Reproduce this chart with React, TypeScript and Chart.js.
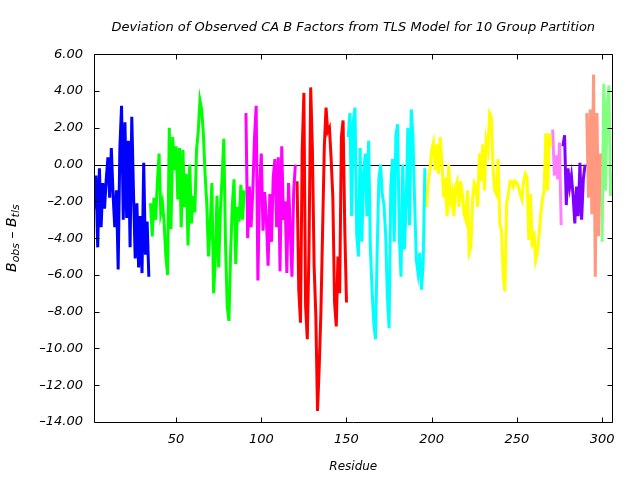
import React, { useEffect, useRef } from "react";
import { Chart, registerables } from "chart.js";

Chart.register(...registerables);

const titleText = "Deviation of Observed CA B Factors from TLS Model for 10 Group Partition";
const xTitle = "Residue";
const xMin = 2;
const xMax = 306;
const yMin = -14;
const yMax = 6;
const xTicks = [50, 100, 150, 200, 250, 300];
const yTicks = [-14, -12, -10, -8, -6, -4, -2, 0, 2, 4, 6];

const groupStarts = [2, 35, 91, 121, 151, 197, 271, 277, 291, 300];
const groupColors = ["#0000ff", "#00ff00", "#ff00ff", "#ff0000", "#00ffff", "#ffff00", "#ff80ff", "#8000ff", "#ff9a80", "#80ff80"];

const group1 = [-2.4, -0.6, -4.5, -0.2, -3.4, -1.0, -2.4, -0.8, 0.4, -1.8, 0.9, -1.6, -3.4, -1.4, -5.7, 0.9, 3.2, -3.0, 2.3, -2.9, 1.3, -4.5, 2.6, -1.5, -5.1, -2.1, -5.6, -2.8, -5.9, 0.1, -4.9, -3.1, -6.1];
const group2 = [-2.1, -3.9, -1.8, -3.0, -1.0, 0.6, -2.6, -2.1, -3.2, -5.0, -6.0, 2.0, -3.5, 1.5, -0.3, 1.0, -1.9, 0.9, -3.4, 0.8, -2.3, -0.5, -4.4, 0.0, -3.2, -1.7, -2.6, 0.8, 1.8, 3.5, 3.0, 1.7, -0.5, -2.1, -5.0, -3.4, -1.0, -7.0, -5.2, -1.7, -5.6, -2.5, -0.7, 1.4, -4.3, -7.7, -8.5, -4.8, -2.2, -0.8, -5.4, -2.3, -3.1, -1.1, -3.0, -1.4];
const group3 = [2.8, -4.0, -1.2, -3.4, -1.5, 1.4, 3.2, -6.3, -1.2, 0.6, -3.6, -1.5, -3.0, -5.5, -1.6, -4.2, -0.7, 0.3, -3.4, 0.4, -5.8, 1.0, -3.0, -2.0, -5.9, -1.0, -3.5, -6.1, -1.5, 0.0];
const group4 = [-0.9, -6.8, -8.6, 0.8, 3.9, -7.7, -9.5, -4.6, 4.2, 0.8, -5.5, -8.2, -13.4, -11.0, -8.0, -3.5, 1.0, 3.1, 1.8, 2.0, 0.3, -1.8, -7.5, -8.8, -5.0, -7.0, 1.5, 2.4, -3.5, -7.5];
const group5 = [1.5, 2.8, -2.8, 2.4, 3.1, -3.8, -5.0, 0.9, -4.2, -0.6, 0.6, -2.8, 1.3, -4.5, -6.8, -8.6, -9.5, -4.8, -0.8, 0.0, -1.6, -2.2, -3.8, -7.2, -8.9, -1.2, 0.3, -4.2, 1.6, 2.2, -3.9, -6.1, 0.0, -4.6, -2.3, 2.0, -3.3, 3.0, 1.6, -2.1, -5.2, -5.9, -4.8, -6.8, -5.4, -0.2];
const group6 = [-2.3, -0.9, -0.3, 0.8, 1.2, -0.3, 1.1, -0.5, 1.5, 0.2, -1.8, -0.7, -2.8, 0.0, -2.0, -1.5, -2.8, -1.2, -0.9, -2.3, -0.9, -1.6, -2.7, -3.0, -1.4, -4.8, -4.5, -1.9, -1.0, -1.2, -2.3, 0.6, -0.9, 1.1, -1.4, 1.3, 0.8, 2.8, 2.6, -0.2, -1.4, -1.6, 0.3, -3.2, -3.6, -6.1, -6.9, -2.1, -1.6, -0.9, -0.9, -1.2, -0.9, -1.0, -1.2, -1.6, -1.9, -0.9, -0.5, -0.7, -4.1, -1.6, -4.5, -3.6, -5.2, -4.8, -3.9, -2.7, -1.9, -1.4, 1.7, -1.4, 1.7, 1.0];
const group7 = [1.9, -0.6, 0.5, -0.8, 1.2, -3.3];
const group8 = [1.0, 1.6, -2.2, -0.2, -1.2, -0.6, -1.7, -3.2, -1.2, -2.8, 0.1, -3.0, -0.8, 0.0];
const group9 = [2.8, -1.8, 3.0, -2.7, 4.9, -6.1, 2.8, -3.9, 0.6];
const group10 = [-4.2, 4.4, -1.4, 3.3, 4.3, -1.7, -0.5];

const groupValues = [group1, group2, group3, group4, group5, group6, group7, group8, group9, group10];

const FONT = "'DejaVu Sans', sans-serif";

const framePlugin = {
  id: "frameAndTicks",
  beforeDatasetsDraw(chart: any) {
    const { ctx, chartArea: a, scales } = chart;
    const y0 = Math.round(scales.y.getPixelForValue(0)) + 0.5;
    ctx.save();
    ctx.strokeStyle = "#000";
    ctx.lineWidth = 1;
    ctx.beginPath();
    ctx.moveTo(a.left, y0);
    ctx.lineTo(a.right, y0);
    ctx.stroke();
    ctx.restore();
  },
  afterDraw(chart: any) {
    const { ctx, chartArea: a, scales } = chart;
    const L = Math.round(a.left) + 0.5;
    const R = Math.round(a.right) + 0.5;
    const T = Math.round(a.top) + 0.5;
    const B = Math.round(a.bottom) + 0.5;
    const tl = 5;
    ctx.save();
    ctx.strokeStyle = "#000";
    ctx.lineWidth = 1;
    ctx.beginPath();
    ctx.rect(L, T, R - L, B - T);
    for (const v of xTicks) {
      const px = Math.round(scales.x.getPixelForValue(v)) + 0.5;
      ctx.moveTo(px, B);
      ctx.lineTo(px, B - tl);
      ctx.moveTo(px, T);
      ctx.lineTo(px, T + tl);
    }
    for (const v of yTicks) {
      const py = Math.round(scales.y.getPixelForValue(v)) + 0.5;
      ctx.moveTo(L, py);
      ctx.lineTo(L + tl, py);
      ctx.moveTo(R, py);
      ctx.lineTo(R - tl, py);
    }
    ctx.stroke();

    // y-axis title with subscripts
    const parts = [
      { t: "B", sub: false },
      { t: "obs", sub: true },
      { t: " \u2013 ", sub: false },
      { t: "B", sub: false },
      { t: "tls", sub: true },
    ];
    const mainFont = `italic 14px ${FONT}`;
    const subFont = `italic 11px ${FONT}`;
    let total = 0;
    const widths: number[] = [];
    for (const p of parts) {
      ctx.font = p.sub ? subFont : mainFont;
      const w = ctx.measureText(p.t).width;
      widths.push(w);
      total += w;
    }
    const cy = (a.top + a.bottom) / 2;
    ctx.translate(16, cy);
    ctx.rotate(-Math.PI / 2);
    ctx.fillStyle = "#000";
    ctx.textBaseline = "alphabetic";
    ctx.textAlign = "left";
    let u = -total / 2;
    parts.forEach((p, i) => {
      ctx.font = p.sub ? subFont : mainFont;
      ctx.fillText(p.t, u, p.sub ? 3 : 0);
      u += widths[i];
    });
    ctx.restore();
  },
};

export default function App() {
  const ref = useRef<HTMLCanvasElement | null>(null);
  useEffect(() => {
    if (!ref.current) return;
    const datasets = groupValues.map((vals, gi) => ({
      label: `Group ${gi + 1}`,
      data: vals.map((v, i) => ({ x: groupStarts[gi] + i, y: v })),
      borderColor: groupColors[gi],
      backgroundColor: groupColors[gi],
      borderWidth: 3,
      pointRadius: 0,
      tension: 0,
      fill: false,
      showLine: true,
    }));
    const tickFont = { family: FONT, size: 13, style: "italic" as const, weight: "normal" as const };
    const chart = new Chart(ref.current, {
      type: "line",
      data: { datasets },
      plugins: [framePlugin],
      options: {
        responsive: false,
        animation: false,
        parsing: false,
        normalized: true,
        layout: { padding: { left: 0, right: 27.7, top: 0, bottom: 0 } },
        plugins: {
          legend: { display: false },
          tooltip: { enabled: false },
          title: {
            display: true,
            text: titleText,
            fullSize: false,
            color: "#000",
            font: { family: FONT, size: 13, style: "italic", weight: "normal", lineHeight: 1.2 },
            padding: { top: 20.2, bottom: 18.5 },
          },
        },
        scales: {
          x: {
            type: "linear",
            min: xMin,
            max: xMax,
            afterBuildTicks: (s: any) => {
              s.ticks = xTicks.map((v) => ({ value: v }));
            },
            afterFit: (s: any) => {
              s.height = 58;
            },
            grid: { display: false, drawTicks: false },
            border: { display: false },
            ticks: {
              color: "#000",
              font: tickFont,
              padding: 10.2,
              autoSkip: false,
              maxRotation: 0,
              callback: (v: any) => String(v),
            },
            title: {
              display: true,
              text: xTitle,
              color: "#000",
              font: { family: FONT, size: 12, style: "italic", weight: "normal", lineHeight: 1.2 },
              padding: { top: 0, bottom: 5.8 },
            },
          },
          y: {
            type: "linear",
            min: yMin,
            max: yMax,
            afterBuildTicks: (s: any) => {
              s.ticks = yTicks.map((v) => ({ value: v }));
            },
            afterFit: (s: any) => {
              s.width = 94.3;
            },
            grid: { display: false, drawTicks: false },
            border: { display: false },
            ticks: {
              color: "#000",
              font: tickFont,
              padding: 11.3,
              autoSkip: false,
              callback: (v: any) => {
                const n = Number(v);
                return (n < 0 ? "\u2013" : "") + Math.abs(n).toFixed(2);
              },
            },
          },
        },
      },
    });
    return () => chart.destroy();
  }, []);
  return (
    <div style={{ position: "absolute", left: 0, top: 0, width: 640, height: 480, background: "#fff" }}>
      <canvas ref={ref} width={640} height={480} style={{ display: "block", width: 640, height: 480 }} />
    </div>
  );
}
